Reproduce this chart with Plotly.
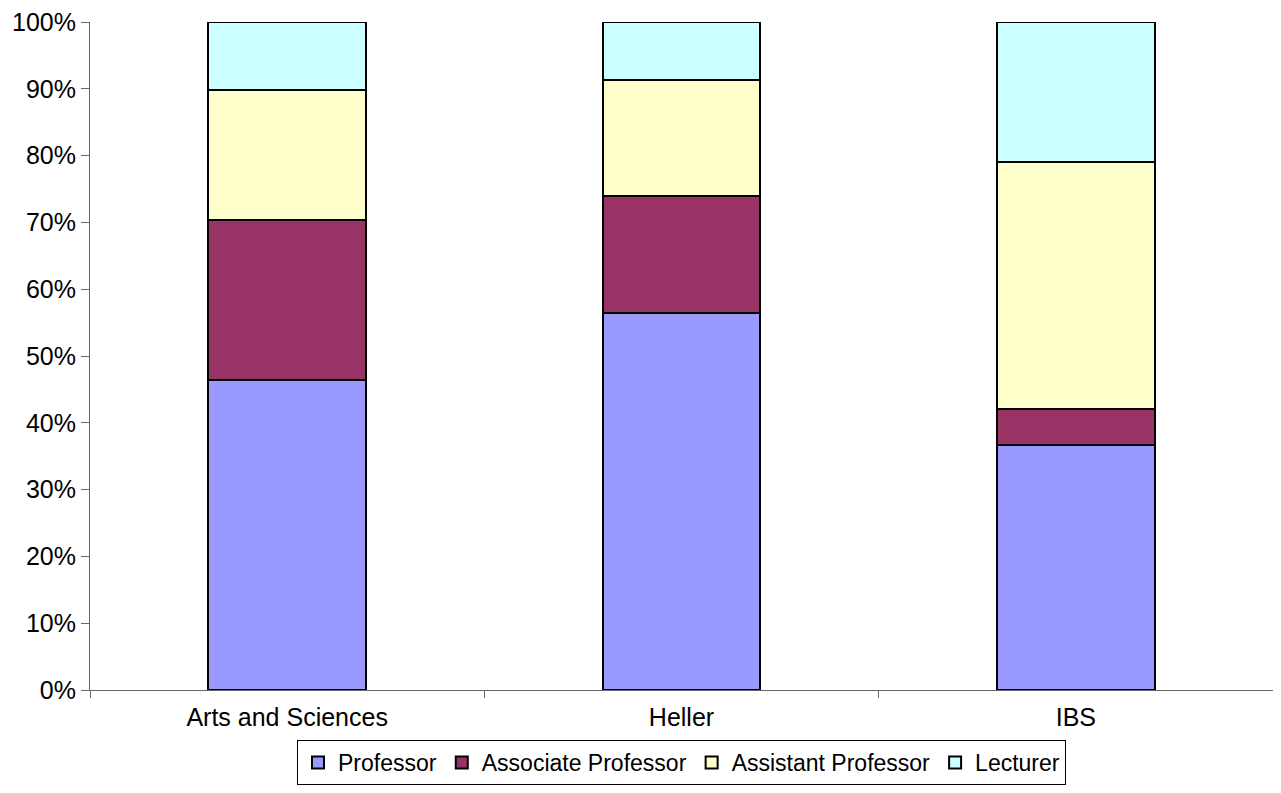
import plotly.graph_objects as go

categories = ["Arts and Sciences", "Heller", "IBS"]
professor = [46.4, 56.4, 36.7]
associate = [23.9, 17.6, 5.3]
assistant = [19.5, 17.3, 37.0]
lecturer = [10.2, 8.7, 21.0]

series = [
    ("Professor", professor, "#9999FF"),
    ("Associate Professor", associate, "#993366"),
    ("Assistant Professor", assistant, "#FFFFCC"),
    ("Lecturer", lecturer, "#CCFFFF"),
]

fig = go.Figure()
for name, vals, color in series:
    fig.add_trace(go.Bar(
        x=categories, y=vals, name=name,
        marker=dict(color=color, line=dict(color="black", width=2)),
        width=0.4,
    ))

fig.update_layout(
    barmode="stack",
    width=1265, height=777,
    margin=dict(l=82, r=0, t=14, b=93),
    plot_bgcolor="white", paper_bgcolor="white",
    font=dict(family="Liberation Sans, Arial, sans-serif", size=25, color="black"),
    showlegend=True,
    legend=dict(
        orientation="h", x=0.5, xanchor="center", y=-0.075, yanchor="top",
        traceorder="normal",
        bordercolor="black", borderwidth=1, font=dict(size=23),
        itemwidth=30, tracegroupgap=0,
    ),
    xaxis=dict(
        showline=True, linecolor="#666", linewidth=1, automargin=False,
        ticks="outside", tickson="boundaries", ticklen=7, tickcolor="#666",
        ticklabelstandoff=5,
        showgrid=False, tickfont=dict(size=25),
    ),
    yaxis=dict(
        range=[0, 100], tickvals=list(range(0, 101, 10)), automargin=False,
        ticktext=[f"{v}%" for v in range(0, 101, 10)],
        ticklabeloverflow="allow",
        showline=True, linecolor="#666", linewidth=1,
        ticks="outside", ticklen=8, tickcolor="#666",
        showgrid=False, zeroline=False, tickfont=dict(size=25),
    ),
)

fig.write_html("out.html")
